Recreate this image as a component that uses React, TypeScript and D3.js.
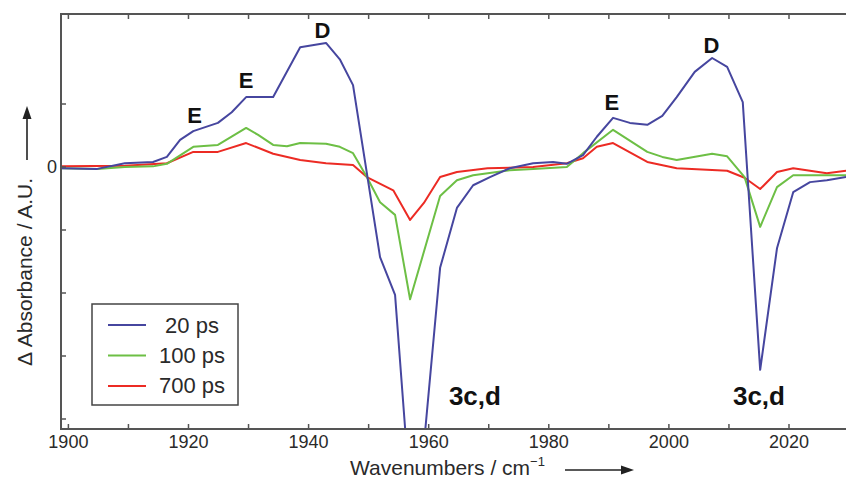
import React from "react";
import * as d3 from "d3";

// ---- data (wavenumber cm^-1, ΔAbsorbance in arbitrary units) ----
const blueWn = [1898.9, 1904.8, 1909.4, 1914.1, 1916.4, 1918.6, 1920.8, 1924.9, 1927.2, 1929.6, 1934.1, 1938.6, 1942.9, 1945.2, 1947.4, 1951.9, 1954.4, 1957.6, 1961.9, 1964.7, 1967.4, 1970.2, 1973.5, 1977.4, 1980.7, 1983.0, 1985.7, 1988.0, 1990.7, 1993.5, 1996.4, 1998.9, 2001.3, 2004.3, 2007.2, 2009.7, 2012.3, 2015.2, 2018.0, 2020.7, 2023.5, 2026.3, 2029.5];
const blueVal = [-0.02, -0.03, 0.06, 0.08, 0.16, 0.43, 0.57, 0.7, 0.87, 1.11, 1.11, 1.9, 1.97, 1.71, 1.3, -1.43, -2.03, -6.08, -1.6, -0.65, -0.29, -0.16, -0.02, 0.06, 0.08, 0.05, 0.19, 0.48, 0.78, 0.7, 0.67, 0.81, 1.11, 1.51, 1.73, 1.59, 1.03, -3.22, -1.29, -0.4, -0.24, -0.21, -0.16];

const greenWn = [1898.9, 1904.8, 1909.4, 1914.1, 1916.4, 1920.8, 1924.9, 1929.6, 1931.6, 1934.1, 1936.4, 1938.6, 1942.9, 1945.2, 1947.4, 1949.7, 1951.9, 1954.4, 1956.9, 1961.9, 1964.7, 1967.4, 1973.5, 1977.4, 1983.0, 1985.7, 1990.7, 1996.4, 1998.9, 2001.3, 2007.2, 2009.7, 2012.6, 2015.2, 2018.0, 2020.7, 2029.5];
const greenVal = [-0.02, -0.03, 0.0, 0.01, 0.05, 0.32, 0.35, 0.62, 0.51, 0.35, 0.33, 0.38, 0.37, 0.32, 0.22, -0.16, -0.56, -0.76, -2.1, -0.46, -0.21, -0.13, -0.05, -0.03, 0.0, 0.22, 0.59, 0.24, 0.16, 0.11, 0.21, 0.17, -0.16, -0.95, -0.32, -0.13, -0.13];

const redWn = [1898.9, 1909.4, 1916.4, 1920.8, 1924.9, 1929.6, 1934.1, 1938.6, 1942.9, 1947.4, 1949.7, 1954.1, 1956.9, 1959.2, 1961.9, 1964.7, 1969.8, 1977.4, 1983.0, 1985.7, 1988.0, 1990.7, 1996.4, 2001.3, 2009.7, 2012.6, 2015.2, 2018.0, 2020.7, 2026.3, 2029.5];
const redVal = [0.01, 0.02, 0.06, 0.24, 0.24, 0.38, 0.21, 0.11, 0.06, 0.03, -0.16, -0.37, -0.84, -0.57, -0.16, -0.08, -0.02, 0.0, 0.06, 0.14, 0.32, 0.38, 0.08, -0.02, -0.06, -0.17, -0.35, -0.08, -0.02, -0.1, -0.06];

const seriesNames = ["20 ps", "100 ps", "700 ps"];
const seriesColors = ["#46469f", "#6dbf45", "#ec2b24"];

const xTickLabels = [1900, 1920, 1940, 1960, 1980, 2000, 2020];
const xMinorTicks = [1900, 1910, 1920, 1930, 1940, 1950, 1960, 1970, 1980, 1990, 2000, 2010, 2020];
const yTicks = [-4, -3, -2, -1, 0, 1];
const yTickLabels = [0];

const peakLabels = [
  { t: "E", wn: 1921.0, v: 0.7 },
  { t: "E", wn: 1929.6, v: 1.25 },
  { t: "D", wn: 1942.3, v: 2.05 },
  { t: "E", wn: 1990.5, v: 0.9 },
  { t: "D", wn: 2007.1, v: 1.81 },
];
const bandLabels = [
  { t: "3c,d", wn: 1967.7 },
  { t: "3c,d", wn: 2015.0 },
];

const W = 846;
const H = 479;
const FONT = "'Liberation Sans', Arial, Helvetica, sans-serif";

export default function App() {
  const left = 61, right = 850, top = 14, bottom = 429;
  const x = d3.scaleLinear().domain([1898.77, 1960 + (right - 428.7) / 6.005]).range([left, right]);
  const y = d3.scaleLinear().domain([-(bottom - 167) / 63, (167 - top) / 63]).range([bottom, top]);

  const line = d3.line<[number, number]>().x((d) => x(d[0])).y((d) => y(d[1]));
  const series = [
    blueWn.map((w, i) => [w, blueVal[i]] as [number, number]),
    greenWn.map((w, i) => [w, greenVal[i]] as [number, number]),
    redWn.map((w, i) => [w, redVal[i]] as [number, number]),
  ];

  const axisColor = "#555";
  const textColor = "#2a2a2a";

  return (
    <svg width={W} height={H} style={{ position: "absolute", left: 0, top: 0, background: "#fff" }} fontFamily={FONT}>
      <defs>
        <clipPath id="plotClip">
          <rect x={left} y={top} width={right - left} height={bottom - top} />
        </clipPath>
      </defs>

      {/* curves, red drawn first, blue last */}
      <g clipPath="url(#plotClip)" fill="none" strokeWidth={2} strokeLinejoin="round">
        {[2, 1, 0].map((i) => (
          <path key={i} d={line(series[i]) || ""} stroke={seriesColors[i]} />
        ))}
      </g>

      {/* frame */}
      <rect x={left} y={top} width={right - left} height={bottom - top} fill="none" stroke={axisColor} strokeWidth={2} />

      {/* x ticks top and bottom */}
      {xMinorTicks.map((t) => (
        <g key={t} stroke={axisColor} strokeWidth={1.5}>
          <line x1={x(t)} x2={x(t)} y1={bottom} y2={bottom - 5} />
          <line x1={x(t)} x2={x(t)} y1={top} y2={top + 5} />
        </g>
      ))}
      {xTickLabels.map((t) => (
        <text key={t} x={x(t)} y={448} fontSize={18} textAnchor="middle" fill={textColor}>
          {t}
        </text>
      ))}

      {/* y ticks */}
      {yTicks.map((t) => (
        <line key={t} x1={left} x2={left + 5} y1={y(t)} y2={y(t)} stroke={axisColor} strokeWidth={1.5} />
      ))}
      {yTickLabels.map((t) => (
        <text key={t} x={57} y={y(t) + 6} fontSize={18} textAnchor="end" fill={textColor}>
          {t}
        </text>
      ))}

      {/* peak labels */}
      {peakLabels.map((p, i) => (
        <text key={i} x={x(p.wn)} y={y(p.v)} fontSize={22} fontWeight="bold" textAnchor="middle" fill="#111">
          {p.t}
        </text>
      ))}
      {bandLabels.map((p, i) => (
        <text key={i} x={x(p.wn)} y={405} fontSize={26} fontWeight="bold" textAnchor="middle" fill="#111">
          {p.t}
        </text>
      ))}

      {/* legend */}
      <rect x={92} y={304} width={146} height={101} fill="#fff" stroke="#444" strokeWidth={1.5} />
      {seriesNames.map((n, i) => (
        <g key={n}>
          <line x1={108} x2={146} y1={325 + i * 30.5} y2={325 + i * 30.5} stroke={seriesColors[i]} strokeWidth={2} />
          <text x={192} y={333 + i * 30} fontSize={22} textAnchor="middle" fill={textColor}>
            {n}
          </text>
        </g>
      ))}

      {/* y axis label with arrow */}
      <text
        transform="translate(32,272) rotate(-90)"
        fontSize={21}
        textAnchor="middle"
        fill={textColor}
      >
        Δ Absorbance / A.U.
      </text>
      <line x1={27} x2={27} y1={160} y2={116} stroke="#222" strokeWidth={1.6} />
      <path d="M27,106 L22.5,119 L31.5,119 Z" fill="#222" />

      {/* x axis label with arrow */}
      <text x={350} y={475} fontSize={21} fill={textColor}>
        Wavenumbers / cm
        <tspan dy={-9} fontSize={13}>−1</tspan>
      </text>
      <line x1={565} x2={622} y1={470} y2={470} stroke="#222" strokeWidth={1.6} />
      <path d="M634,470 L621,465.5 L621,474.5 Z" fill="#222" />
    </svg>
  );
}
